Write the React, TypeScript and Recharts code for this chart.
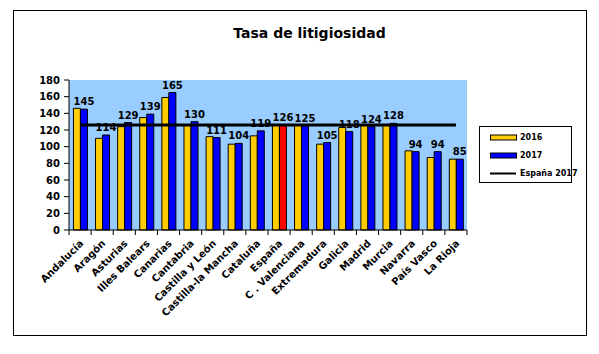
import { ComposedChart, Bar, Line, XAxis, YAxis, CartesianGrid, Legend, LabelList, Cell } from 'recharts';

const regions = [
  'Andalucía', 'Aragón', 'Asturias', 'Illes Balears', 'Canarias', 'Cantabria',
  'Castilla y León', 'Castilla-la Mancha', 'Cataluña', 'España', 'C . Valenciana',
  'Extremadura', 'Galicia', 'Madrid', 'Murcia', 'Navarra', 'País Vasco', 'La Rioja',
];
const tasa2016 = [146, 110, 124, 135, 159, 126, 112, 103, 113, 126, 126, 103, 123, 126, 126, 95, 87, 85];
const tasa2017 = [145, 114, 129, 139, 165, 130, 111, 104, 119, 126, 125, 105, 118, 124, 128, 94, 94, 85];
const espana2017 = [126, 126, 126, 126, 126, 126, 126, 126, 126, 126, 126, 126, 126, 126, 126, 126, 126, 126];
const yTicks = [0, 20, 40, 60, 80, 100, 120, 140, 160, 180];

const data = regions.map((region, i) => ({
  region,
  y2016: tasa2016[i],
  y2017: tasa2017[i],
  espana: espana2017[i],
}));

const FONT = '"DejaVu Sans", Verdana, sans-serif';

const XTick = (props: any) => {
  const { x, y, payload } = props;
  const half = payload.offset || 11.05;
  const last = payload.index === regions.length - 1;
  return (
    <g>
      <line x1={x - half} x2={x - half} y1={y} y2={y + 5} stroke="#000" />
      {last && <line x1={x + half} x2={x + half} y1={y} y2={y + 5} stroke="#000" />}
      <text
        x={x + 4}
        y={y + 14}
        transform={`rotate(-45, ${x + 4}, ${y + 14})`}
        textAnchor="end"
        fontSize={10}
        fontWeight="bold"
        fontFamily={FONT}
        fill="#000"
      >
        {payload.value}
      </text>
    </g>
  );
};

const ValueLabel = (props: any) => {
  const { x, y, width, value } = props;
  return (
    <text x={x + width / 2} y={y - 4} textAnchor="middle" fontSize={10} fontWeight="bold" fontFamily={FONT} fill="#000">
      {value}
    </text>
  );
};

const LegendBox = ({ payload }: any) => (
  <div
    style={{
      border: '1px solid #000', background: '#fff', width: 93, height: 57, boxSizing: 'border-box',
      paddingTop: 1, fontFamily: FONT, fontSize: 8, fontWeight: 'bold', whiteSpace: 'nowrap',
    }}
  >
    {(payload || []).map((p: any) => (
      <div key={p.value} style={{ display: 'flex', alignItems: 'center', height: 18, paddingLeft: 10 }}>
        <svg width={27} height={7} style={{ marginRight: 3, flexShrink: 0 }}>
          {p.type === 'line' ? (
            <line x1={0} x2={26} y1={3.5} y2={3.5} stroke="#000" strokeWidth={2} />
          ) : (
            <rect x={0.5} y={1} width={26} height={5} fill={p.color} stroke="#000" />
          )}
        </svg>
        <span>{p.value}</span>
      </div>
    ))}
  </div>
);

export default function App() {
  return (
    <div style={{ position: 'absolute', left: 0, top: 0, width: 599, height: 354, background: '#fff' }}>
      <div style={{ position: 'absolute', left: 13, top: 10, width: 574, height: 326, border: '1px solid #000', boxSizing: 'border-box' }} />
      <div
        style={{
          position: 'absolute', left: 0, width: 619, top: 25, textAlign: 'center',
          fontFamily: FONT, fontSize: 14, fontWeight: 'bold', color: '#000',
        }}
      >
        Tasa de litigiosidad
      </div>
      <div style={{ position: 'absolute', left: 0, top: 0 }}>
        <ComposedChart
          width={599}
          height={354}
          data={data}
          margin={{ top: 80, right: 132, bottom: 34, left: 29 }}
          barCategoryGap="20%"
          barGap={0}
        >
          <CartesianGrid fill="#99CCFF" horizontal={false} vertical={false} />
          <XAxis
            dataKey="region"
            height={90}
            interval={0}
            tickSize={0}
            tickMargin={0}
            tick={<XTick />}
            axisLine={{ stroke: '#000' }}
          />
          <XAxis xAxisId="top" dataKey="region" orientation="top" height={0} tick={false} tickLine={false} axisLine={{ stroke: '#808080' }} />
          <YAxis
            domain={[0, 180]}
            ticks={yTicks}
            width={40}
            tickSize={5}
            tickMargin={4}
            interval={0}
            axisLine={{ stroke: '#000' }}
            tickLine={{ stroke: '#000' }}
            tick={{ fontSize: 10, fontWeight: 'bold', fontFamily: FONT, fill: '#000' }}
          />
          <YAxis yAxisId="right" orientation="right" width={0} tick={false} tickLine={false} axisLine={{ stroke: '#808080' }} />
          <Legend
            layout="horizontal"
            align="center"
            verticalAlign="middle"
            content={<LegendBox />}
            wrapperStyle={{ left: 479, top: 126, width: 93 }}
          />
          <Bar dataKey="y2016" name="2016" fill="#FFCC00" stroke="#000" strokeWidth={1} isAnimationActive={false} />
          <Bar dataKey="y2017" name="2017" fill="#0000FF" stroke="#000" strokeWidth={1} isAnimationActive={false}>
            {data.map((d) => (
              <Cell key={d.region} fill={d.region === 'España' ? '#FF0000' : '#0000FF'} />
            ))}
            <LabelList dataKey="y2017" content={<ValueLabel />} />
          </Bar>
          <Line dataKey="espana" name="España 2017" stroke="#000" strokeWidth={3} dot={false} isAnimationActive={false} legendType="line" />
        </ComposedChart>
      </div>
    </div>
  );
}
